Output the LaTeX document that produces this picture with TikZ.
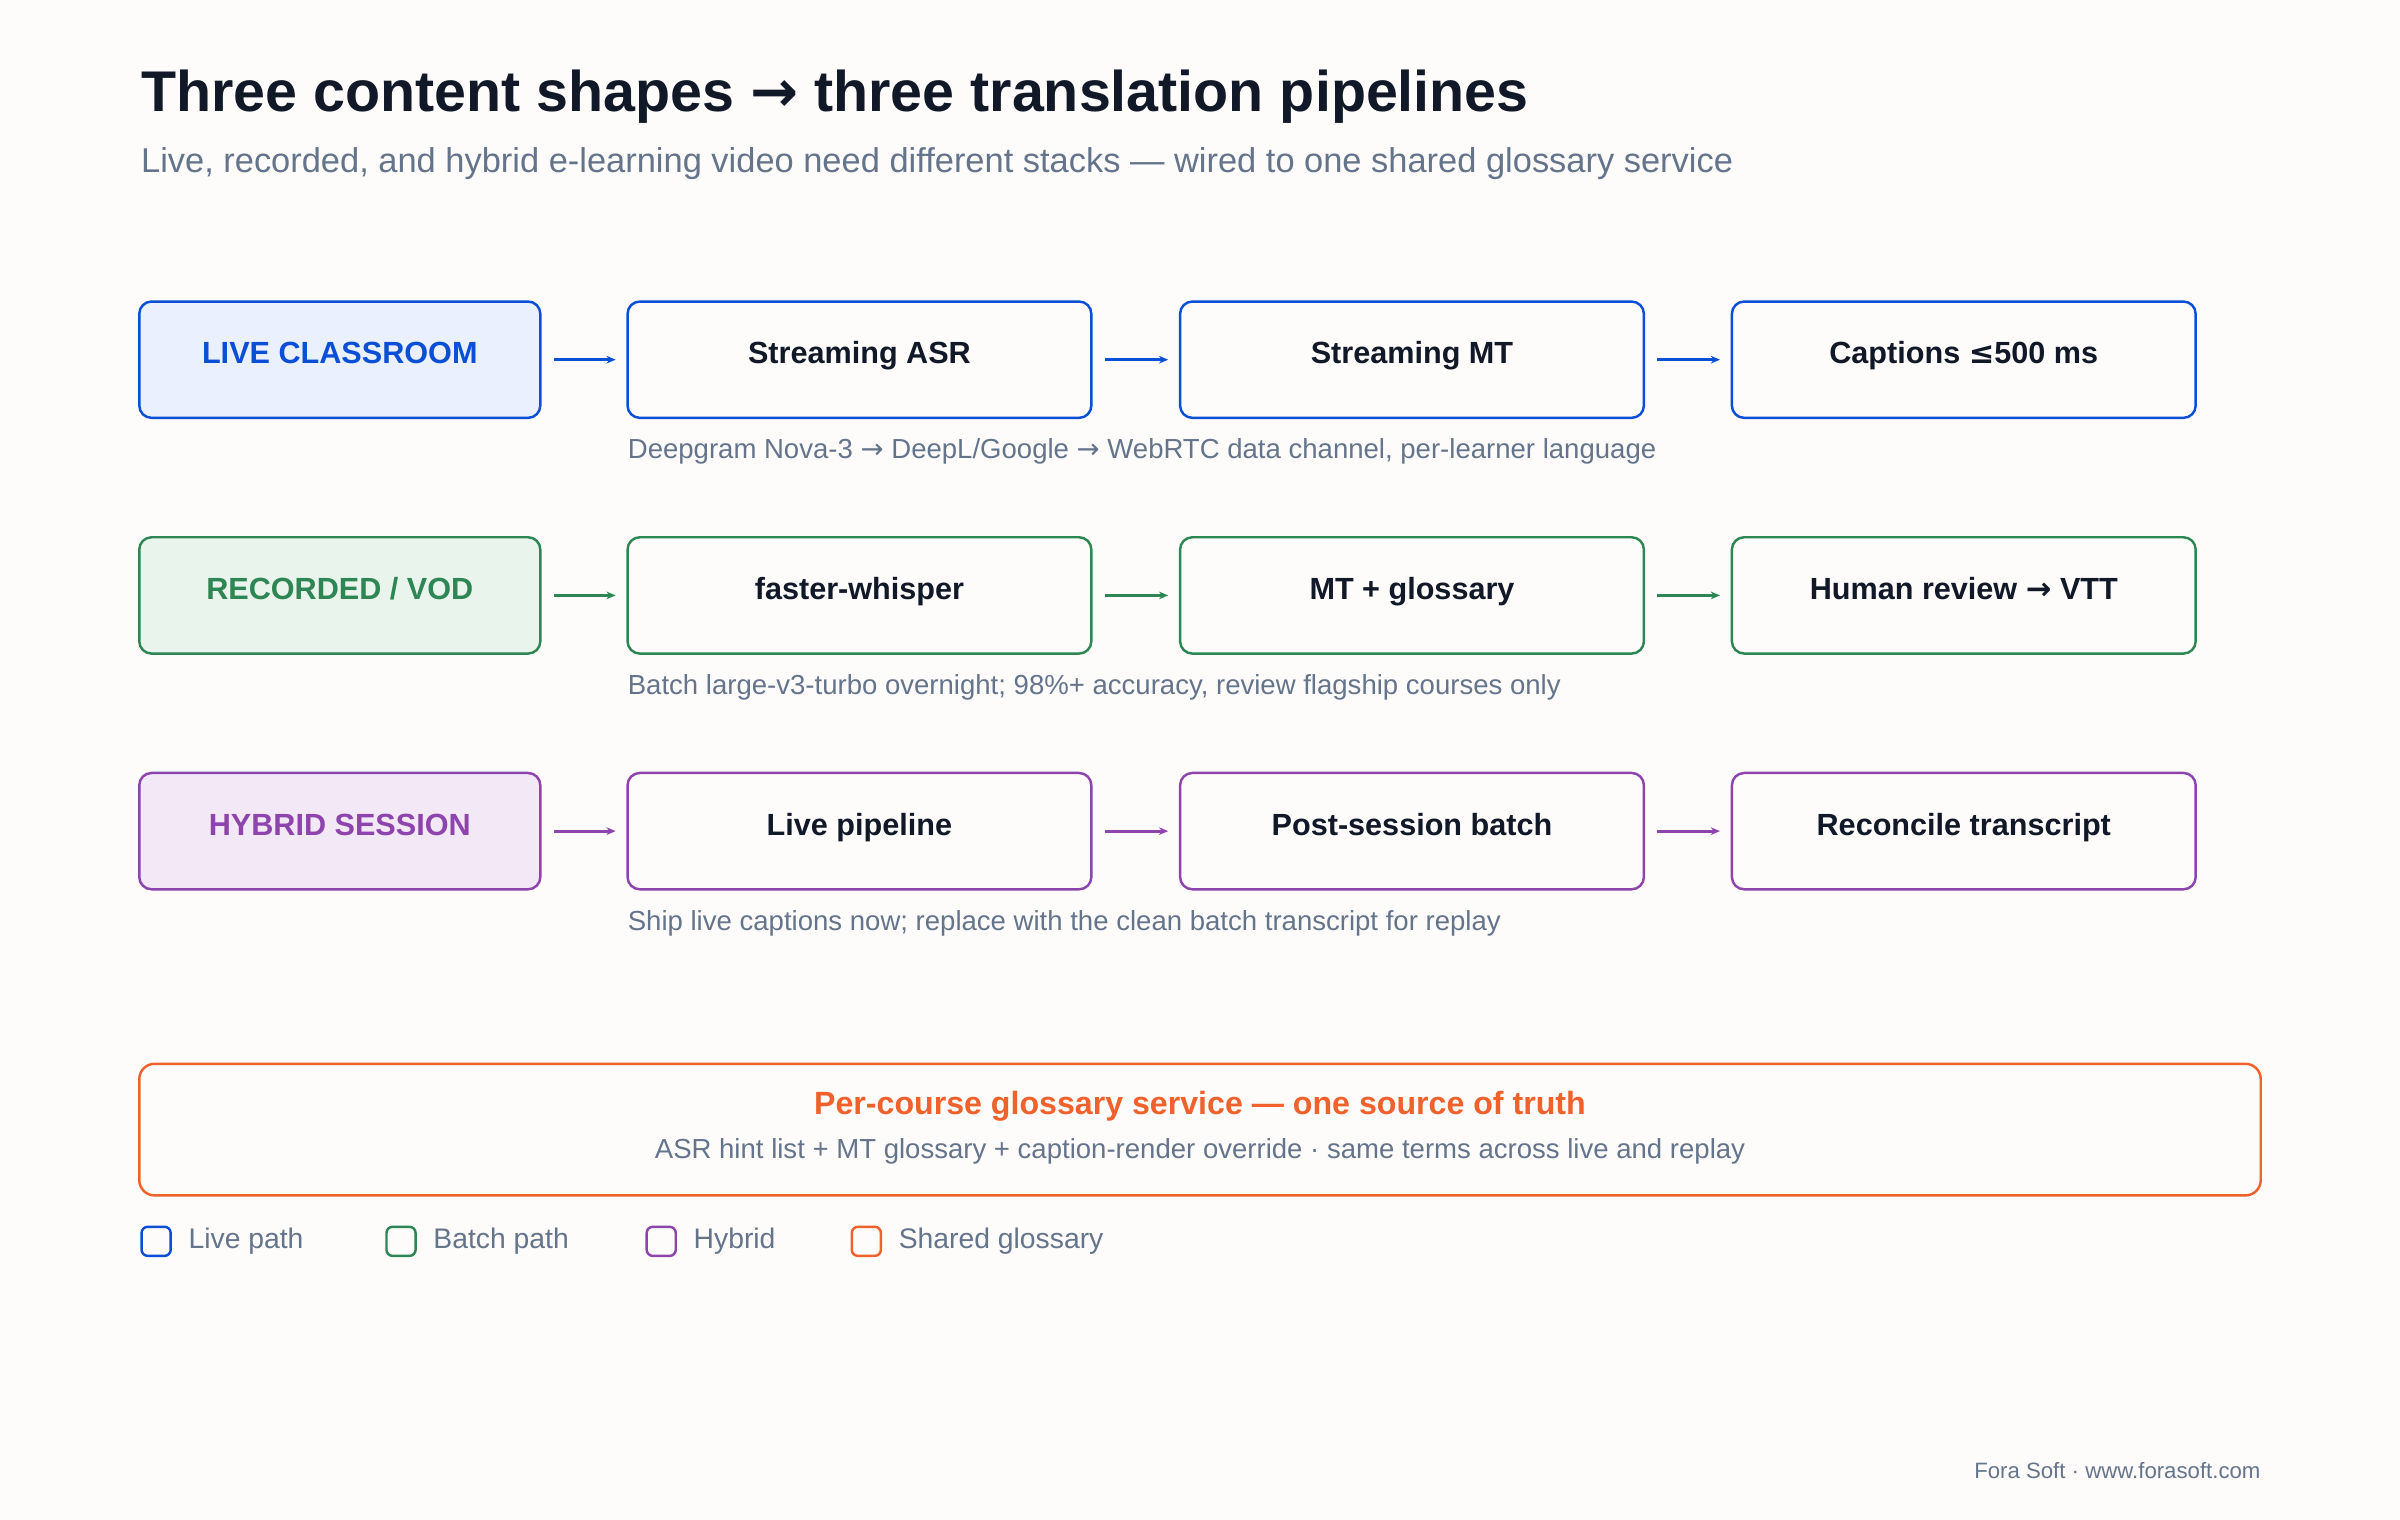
\documentclass[tikz,border=0pt]{standalone}
\usepackage{fontspec}
\setmainfont{Liberation Sans}
\newfontfamily\sym{DejaVu Sans}
\usetikzlibrary{arrows.meta}
\definecolor{bg}{HTML}{FDFCFA}
\definecolor{ink}{HTML}{111827}
\definecolor{sub}{HTML}{64748B}
\definecolor{cb}{HTML}{0B4FD6}\definecolor{fb}{HTML}{EAF0FE}
\definecolor{cg}{HTML}{2E8655}\definecolor{fg}{HTML}{E9F4EC}
\definecolor{cp}{HTML}{8E44AD}\definecolor{fp}{HTML}{F3E8F6}
\definecolor{co}{HTML}{F0612B}
\tikzset{x=1pt,y=-1pt,
 box/.style={draw=#1,line width=1.6pt,rounded corners=8pt,minimum height=76pt,inner sep=0pt,font=\fontsize{20}{22}\selectfont\bfseries,text=ink,text height=0.72em,text depth=0.2em},
 head/.style={box=#1,minimum width=262pt,text=#1},
 step/.style={box=#1,minimum width=303pt},
 arr/.style={draw=#1,line width=1.8pt,-{Stealth[length=6pt,width=5pt]}},
 note/.style={anchor=west,text=sub,font=\fontsize{18}{20}\selectfont,inner sep=0pt},
 leg/.style={draw=#1,line width=1.6pt,rounded corners=4pt,minimum size=19pt,inner sep=0pt},
 legt/.style={anchor=west,text=sub,font=\fontsize{18.5}{20}\selectfont,inner sep=0pt}}
\begin{document}
\begin{tikzpicture}
\fill[bg] (0,0) rectangle (1568,993);
\useasboundingbox (0,0) rectangle (1568,993);
\node[anchor=west,inner sep=0pt,text=ink,font=\fontsize{37.5}{40}\selectfont\bfseries] (title) at (92,63) {Three content shapes {\sym →} three translation pipelines};
\node[anchor=west,inner sep=0pt,text=sub,font=\fontsize{22.5}{24}\selectfont] (subt) at (92,107) {Live, recorded, and hybrid e-learning video need different stacks — wired to one shared glossary service};
% row 1
\node[head=cb,fill=fb] (a1) at (222,235) {LIVE CLASSROOM};
\node[step=cb] (a2) at (561.5,235) {Streaming ASR};
\node[step=cb] (a3) at (922.5,235) {Streaming MT};
\node[step=cb] (a4) at (1283,235) {Captions {\sym ≤}500 ms};
\draw[arr=cb] ([xshift=8pt]a1.east) -- ([xshift=-7pt]a2.west);
\draw[arr=cb] ([xshift=8pt]a2.east) -- ([xshift=-7pt]a3.west);
\draw[arr=cb] ([xshift=8pt]a3.east) -- ([xshift=-7pt]a4.west);
\node[note] (c1) at (410,295) {Deepgram Nova-3 {\sym →} DeepL/Google {\sym →} WebRTC data channel, per-learner language};
% row 2
\node[head=cg,fill=fg] (b1) at (222,389) {RECORDED / VOD};
\node[step=cg] (b2) at (561.5,389) {faster-whisper};
\node[step=cg] (b3) at (922.5,389) {MT + glossary};
\node[step=cg] (b4) at (1283,389) {Human review {\sym →} VTT};
\draw[arr=cg] ([xshift=8pt]b1.east) -- ([xshift=-7pt]b2.west);
\draw[arr=cg] ([xshift=8pt]b2.east) -- ([xshift=-7pt]b3.west);
\draw[arr=cg] ([xshift=8pt]b3.east) -- ([xshift=-7pt]b4.west);
\node[note] (c2) at (410,449) {Batch large-v3-turbo overnight; 98\%+ accuracy, review flagship courses only};
% row 3
\node[head=cp,fill=fp] (d1) at (222,543) {HYBRID SESSION};
\node[step=cp] (d2) at (561.5,543) {Live pipeline};
\node[step=cp] (d3) at (922.5,543) {Post-session batch};
\node[step=cp] (d4) at (1283,543) {Reconcile transcript};
\draw[arr=cp] ([xshift=8pt]d1.east) -- ([xshift=-7pt]d2.west);
\draw[arr=cp] ([xshift=8pt]d2.east) -- ([xshift=-7pt]d3.west);
\draw[arr=cp] ([xshift=8pt]d3.east) -- ([xshift=-7pt]d4.west);
\node[note] (c3) at (410,603) {Ship live captions now; replace with the clean batch transcript for replay};
% glossary
\node[draw=co,line width=1.6pt,rounded corners=10pt,minimum width=1386pt,minimum height=86pt,inner sep=0pt] (gl) at (784,738) {};
\node[inner sep=0pt,text=co,font=\fontsize{21}{24}\selectfont\bfseries] (glt) at (784,723) {Per-course glossary service — one source of truth};
\node[inner sep=0pt,text=sub,font=\fontsize{18}{20}\selectfont] (gls) at (784,752) {ASR hint list + MT glossary + caption-render override · same terms across live and replay};
% legend
\node[leg=cb] (l1) at (102,811) {}; \node[legt] (t1) at (123,811) {Live path};
\node[leg=cg] (l2) at (262,811) {}; \node[legt] (t2) at (283,811) {Batch path};
\node[leg=cp] (l3) at (432,811) {}; \node[legt] (t3) at (453,811) {Hybrid};
\node[leg=co] (l4) at (566,811) {}; \node[legt] (t4) at (587,811) {Shared glossary};
\node[anchor=east,inner sep=0pt,text=sub,font=\fontsize{14.5}{16}\selectfont] (ft) at (1477,961) {Fora Soft · www.forasoft.com};
\end{tikzpicture}
\end{document}
